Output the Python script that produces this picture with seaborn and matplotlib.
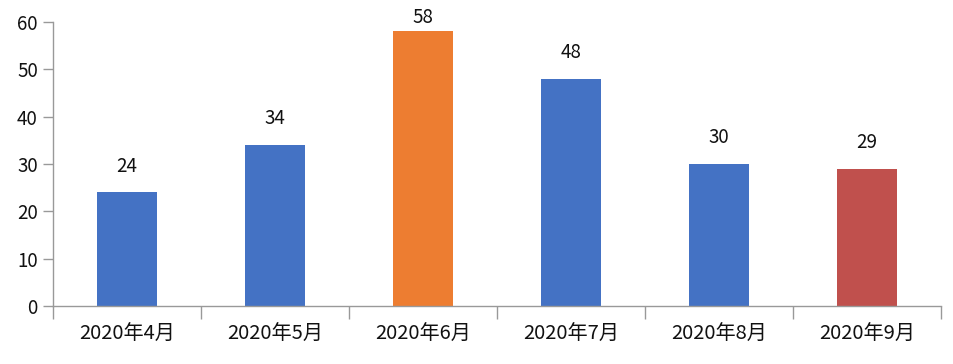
import pandas as pd
import matplotlib
matplotlib.use('Agg')
import matplotlib.pyplot as plt
import seaborn as sns

# Data
months = ['2020年4月', '2020年5月', '2020年6月', '2020年7月', '2020年8月', '2020年9月']
values = [24, 34, 58, 48, 30, 29]
colors = ['#4472C4', '#4472C4', '#ED7D31', '#4472C4', '#4472C4', '#C0504D']

df = pd.DataFrame({'month': months, 'value': values})

sns.set_style('white')
plt.rcParams['font.family'] = ['Noto Sans CJK JP', 'DejaVu Sans']

fig = plt.figure(figsize=(9.54, 3.64), dpi=100)
ax = fig.add_axes([0.0556, 0.159, 0.9308, 0.781])

sns.barplot(data=df, x='month', y='value', hue='month', palette=colors,
            width=0.4, legend=False, saturation=1, linewidth=0, ax=ax)

ax.set_xlim(-0.5, len(months) - 0.5)
ax.set_ylim(0, 60)
ax.set_yticks(range(0, 61, 10))
ax.set_xlabel('')
ax.set_ylabel('')

# Value labels above the bars
for i, v in enumerate(values):
    ax.text(i, min(v + 5.5, 61.0), str(v), ha='center', va='center',
            fontsize=13.5, color='#111111', clip_on=False)

# Axes styling
for side in ['top', 'right']:
    ax.spines[side].set_visible(False)
for side in ['left', 'bottom']:
    ax.spines[side].set_color('#999999')
    ax.spines[side].set_linewidth(1)

# x ticks at the category boundaries, labels centred
ax.set_xticks([i - 0.5 for i in range(len(months) + 1)], minor=False)
ax.set_xticklabels([])
ax.set_xticks(range(len(months)), minor=True)
ax.set_xticklabels(months, minor=True, fontsize=14.5, color='#111111')
ax.tick_params(axis='x', which='major', direction='out', length=9, width=1,
               color='#999999', bottom=True)
ax.tick_params(axis='x', which='minor', length=0, pad=13, bottom=True)
ax.tick_params(axis='y', direction='out', length=7, width=1, color='#999999',
               labelsize=13.5, labelcolor='#111111', left=True, pad=4)

plt.savefig('out.png', dpi=100)
